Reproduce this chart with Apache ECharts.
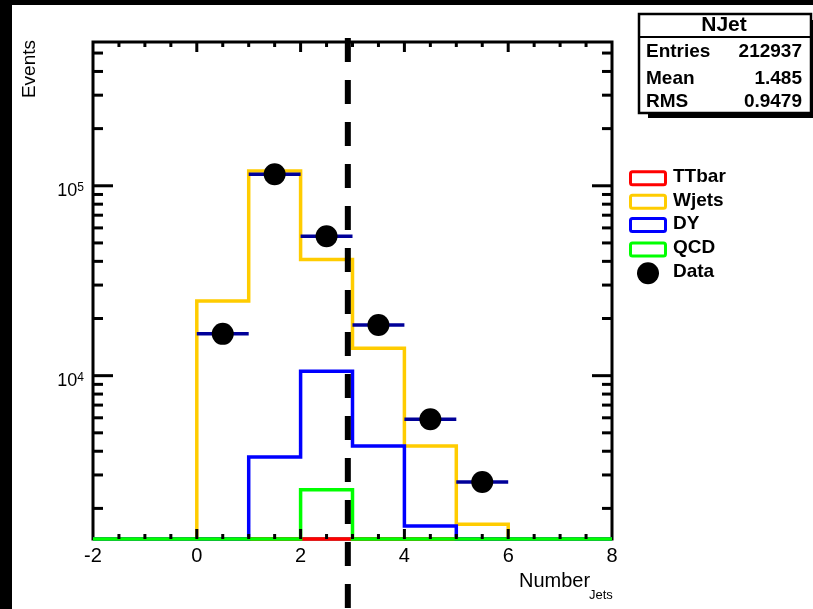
<!DOCTYPE html>
<html>
<head>
<meta charset="utf-8">
<script src="https://cdn.jsdelivr.net/npm/echarts@6/dist/echarts.min.js"></script>
<style>
  html, body { margin: 0; padding: 0; background: #fff; }
  #chart { width: 813px; height: 609px; }
</style>
</head>
<body>
<div id="chart"></div>
<script>
// Jet multiplicity: 10 bins of width 1, low edges below
const binLow = [-2, -1, 0, 1, 2, 3, 4, 5, 6, 7];
const binWidth = 1;

// MC histograms (entries per bin)
const ttbar = [0, 0, 0, 20, 140, 380, 260, 110, 30, 0];
const wjets = [0, 0, 24750, 119700, 40850, 13940, 4265, 1650, 0, 0];
const dy    = [0, 0, 0, 3735, 10550, 4265, 1615, 0, 0, 0];
const qcd   = [0, 0, 0, 0, 2510, 0, 0, 0, 0, 0];
// Observed events
const data  = [0, 0, 16600, 115000, 54200, 18480, 5900, 2757, 0, 0];

// Statistics box
const statsTitle = 'NJet';
const statsLabels = ['Entries', 'Mean', 'RMS'];
const statsValues = ['212937', '1.485', '0.9479'];

// Legend entries and the selection cut position
const legendNames = ['TTbar', 'Wjets', 'DY', 'QCD', 'Data'];
const cutValue = 2.91;

// Axis ranges
const xRange = [-2, 8];
const yRange = [1380, 571700];

const FONT = '"Liberation Sans", Arial, Helvetica, sans-serif';
const COLORS = { TTbar: '#ff0000', Wjets: '#ffcc00', DY: '#0000ff', QCD: '#00ff00', Data: '#000000' };
const ERR_COLOR = '#000099';

// Histogram outline as a step path; empty bins sit on the axis floor
function stepPoints(vals) {
  const pts = [];
  vals.forEach((v, i) => {
    const y = Math.max(v, yRange[0]);
    pts.push([binLow[i], y], [binLow[i] + binWidth, y]);
  });
  return pts;
}

function histSeries(name, vals, z) {
  return {
    type: 'line', name: name, data: stepPoints(vals), z: z,
    showSymbol: false, symbol: 'none', clip: false,
    lineStyle: { color: COLORS[name], width: 3.5, join: 'miter' },
    itemStyle: { color: COLORS[name] }
  };
}

const dataPoints = [];
data.forEach((v, i) => { if (v > 0) dataPoints.push([binLow[i] + binWidth / 2, v]); });

const chart = echarts.init(document.getElementById('chart'), null, { renderer: 'canvas' });

chart.setOption({
  animation: false,
  backgroundColor: '#ffffff',
  grid: { left: 93, right: 201, top: 42, bottom: 70, show: true, borderColor: '#000', borderWidth: 3, backgroundColor: 'transparent' },
  xAxis: {
    type: 'value', min: xRange[0], max: xRange[1], interval: 2,
    axisLine: { show: false }, axisTick: { show: false }, splitLine: { show: false },
    axisLabel: { margin: 7, color: '#000', fontSize: 20, fontFamily: FONT, formatter: v => String(v) }
  },
  yAxis: {
    type: 'log', logBase: 10, min: yRange[0], max: yRange[1],
    axisLine: { show: false }, axisTick: { show: false }, splitLine: { show: false },
    axisLabel: {
      margin: 9, color: '#000', fontFamily: FONT, padding: [10, 0, 0, 0],
      formatter: v => {
        const e = Math.log10(v);
        if (Math.abs(e - Math.round(e)) > 1e-6) return '';
        return '{b|10}{e|' + Math.round(e) + '}';
      },
      rich: {
        b: { fontSize: 18, lineHeight: 18, fontFamily: FONT, color: '#000', verticalAlign: 'bottom' },
        e: { fontSize: 12, lineHeight: 12, fontFamily: FONT, color: '#000', verticalAlign: 'top' }
      }
    }
  },
  series: [
    histSeries('TTbar', ttbar, 2),
    histSeries('Wjets', wjets, 3),
    histSeries('DY', dy, 4),
    histSeries('QCD', qcd, 5),
    {
      type: 'custom', name: 'Data errors', data: dataPoints, clip: false, z: 6,
      renderItem: (params, api) => {
        const x = api.value(0), y = api.value(1);
        const p1 = api.coord([x - binWidth / 2, y]);
        const p2 = api.coord([x + binWidth / 2, y]);
        return { type: 'line', shape: { x1: p1[0], y1: p1[1], x2: p2[0], y2: p2[1] },
                 style: { stroke: ERR_COLOR, lineWidth: 3.5 } };
      }
    },
    {
      type: 'scatter', name: 'Data', data: dataPoints, symbol: 'circle', symbolSize: 22, z: 7,
      itemStyle: { color: COLORS.Data, opacity: 1 }
    }
  ]
});

// Frame ticks, cut line, stats box, legend and titles
function px(x, y) { return chart.convertToPixel({ gridIndex: 0 }, [x, y]); }
const g = [];
const bl = px(xRange[0], yRange[0]);
const tr = px(xRange[1], yRange[1]);
const tick = (x1, y1, x2, y2) => g.push({ type: 'line', z: 50, shape: { x1, y1, x2, y2 }, style: { stroke: '#000', lineWidth: 3 } });

for (let i = 1; i < 20; i++) {
  const xv = xRange[0] + i * 0.5;
  const len = (Math.abs(xv % 2) < 1e-9) ? 10 : 5;
  const p = px(xv, yRange[0]);
  tick(p[0], bl[1], p[0], bl[1] - len);
  tick(p[0], tr[1], p[0], tr[1] + len);
}
for (let d = 3; d <= 5; d++) {
  for (let k = 1; k <= 9; k++) {
    const v = k * Math.pow(10, d);
    if (v <= yRange[0] || v >= yRange[1]) continue;
    const len = k === 1 ? 20 : 10;
    const p = px(xRange[0], v);
    tick(bl[0], p[1], bl[0] + len, p[1]);
    tick(tr[0], p[1], tr[0] - len, p[1]);
  }
}

// selection cut
const cx = px(cutValue, yRange[0])[0];
g.push({ type: 'line', z: 60, shape: { x1: cx, y1: 38, x2: cx, y2: 620 },
         style: { stroke: '#000', lineWidth: 6, lineDash: [24, 18] } });

// stats box with shadow
g.push({ type: 'rect', z: 70, shape: { x: 648, y: 20, width: 180, height: 98 }, style: { fill: '#000' } });
g.push({ type: 'rect', z: 71, shape: { x: 639, y: 14, width: 172, height: 99 }, style: { fill: '#fff', stroke: '#000', lineWidth: 2.5 } });
g.push({ type: 'line', z: 72, shape: { x1: 639, y1: 37, x2: 811, y2: 37 }, style: { stroke: '#000', lineWidth: 2 } });
g.push({ type: 'text', z: 73, x: 724, y: 25, style: { text: statsTitle, font: 'bold 21px ' + FONT, fill: '#000', align: 'center', verticalAlign: 'middle' } });
const rowY = [51.5, 79, 102];
statsLabels.forEach((lab, i) => {
  g.push({ type: 'text', z: 73, x: 646, y: rowY[i], style: { text: lab, font: 'bold 19px ' + FONT, fill: '#000', align: 'left', verticalAlign: 'middle' } });
  g.push({ type: 'text', z: 73, x: 802, y: rowY[i], style: { text: statsValues[i], font: 'bold 19px ' + FONT, fill: '#000', align: 'right', verticalAlign: 'middle' } });
});

// legend
const legY = [178.3, 201.7, 225, 249.5, 273.3];
const legTextY = [177, 201, 223.5, 247.5, 272];
legendNames.forEach((name, i) => {
  if (name === 'Data') {
    g.push({ type: 'circle', z: 80, shape: { cx: 648, cy: legY[i], r: 11 }, style: { fill: '#000' } });
  } else {
    g.push({ type: 'rect', z: 80, shape: { x: 630.5, y: legY[i] - 6.5, width: 35, height: 13, r: 2 },
             style: { fill: '#fff', stroke: COLORS[name], lineWidth: 3 } });
  }
  g.push({ type: 'text', z: 80, x: 673, y: legTextY[i], style: { text: name, font: 'bold 19px ' + FONT, fill: '#000', align: 'left', verticalAlign: 'middle' } });
});

// axis titles
g.push({ type: 'text', z: 80, x: 30, y: 40, rotation: Math.PI / 2,
         style: { text: 'Events', font: '19px ' + FONT, fill: '#000', align: 'right', verticalAlign: 'middle' } });
g.push({ type: 'text', z: 80, x: 519, y: 581,
         style: { text: 'Number', font: '20px ' + FONT, fill: '#000', align: 'left', verticalAlign: 'middle' } });
g.push({ type: 'text', z: 80, x: 589, y: 595,
         style: { text: 'Jets', font: '13px ' + FONT, fill: '#000', align: 'left', verticalAlign: 'middle' } });

// dark page border
g.push({ type: 'rect', z: 90, shape: { x: 0, y: 0, width: 813, height: 5 }, style: { fill: '#000' } });
g.push({ type: 'rect', z: 90, shape: { x: 0, y: 0, width: 12, height: 609 }, style: { fill: '#000' } });

chart.setOption({ graphic: { elements: g } });
</script>
</body>
</html>
